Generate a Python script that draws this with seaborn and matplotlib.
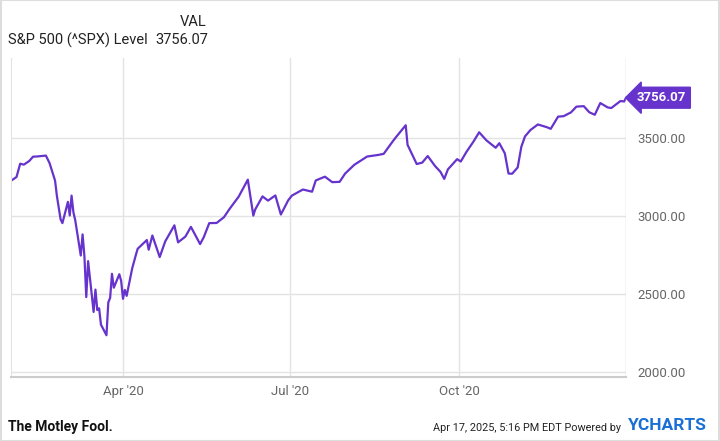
import pandas as pd
import matplotlib.pyplot as plt
import seaborn as sns

dates = ["2020-01-31", "2020-02-03", "2020-02-05", "2020-02-07", "2020-02-10", "2020-02-12",
         "2020-02-14", "2020-02-19", "2020-02-21", "2020-02-24", "2020-02-25", "2020-02-27",
         "2020-02-28", "2020-03-02", "2020-03-03", "2020-03-04", "2020-03-05", "2020-03-06",
         "2020-03-09", "2020-03-10", "2020-03-11", "2020-03-12", "2020-03-13", "2020-03-16",
         "2020-03-17", "2020-03-18", "2020-03-19", "2020-03-20", "2020-03-23", "2020-03-24",
         "2020-03-25", "2020-03-26", "2020-03-27", "2020-03-30", "2020-03-31", "2020-04-01",
         "2020-04-02", "2020-04-03", "2020-04-06", "2020-04-08", "2020-04-09", "2020-04-14",
         "2020-04-15", "2020-04-17", "2020-04-21", "2020-04-24", "2020-04-29", "2020-05-01",
         "2020-05-05", "2020-05-08", "2020-05-13", "2020-05-15", "2020-05-18", "2020-05-22",
         "2020-05-26", "2020-05-29", "2020-06-03", "2020-06-08", "2020-06-11", "2020-06-12",
         "2020-06-16", "2020-06-19", "2020-06-23", "2020-06-26", "2020-06-30", "2020-07-02",
         "2020-07-08", "2020-07-13", "2020-07-15", "2020-07-20", "2020-07-24", "2020-07-28",
         "2020-07-31", "2020-08-05", "2020-08-12", "2020-08-18", "2020-08-21", "2020-08-26",
         "2020-08-28", "2020-09-02", "2020-09-03", "2020-09-08", "2020-09-11", "2020-09-14",
         "2020-09-18", "2020-09-21", "2020-09-23", "2020-09-25", "2020-09-30", "2020-10-02",
         "2020-10-05", "2020-10-09", "2020-10-12", "2020-10-16", "2020-10-21", "2020-10-23",
         "2020-10-26", "2020-10-28", "2020-10-30", "2020-11-02", "2020-11-04", "2020-11-06",
         "2020-11-09", "2020-11-13", "2020-11-18", "2020-11-20", "2020-11-24", "2020-11-27",
         "2020-12-01", "2020-12-04", "2020-12-08", "2020-12-11", "2020-12-14", "2020-12-17",
         "2020-12-21", "2020-12-23", "2020-12-28", "2020-12-30", "2020-12-31"]
levels = [3225, 3249, 3334, 3328, 3352, 3379,
          3380, 3386, 3338, 3226, 3128, 2979,
          2954, 3090, 3003, 3130, 3023, 2972,
          2747, 2882, 2741, 2481, 2711, 2386,
          2529, 2398, 2409, 2305, 2237, 2447,
          2476, 2630, 2541, 2627, 2585, 2470,
          2527, 2489, 2664, 2750, 2790, 2846,
          2784, 2875, 2737, 2837, 2940, 2831,
          2868, 2930, 2820, 2864, 2954, 2955,
          2992, 3044, 3123, 3232, 3002, 3041,
          3125, 3098, 3131, 3009, 3100, 3130,
          3169, 3155, 3227, 3251, 3216, 3218,
          3271, 3327, 3380, 3390, 3397, 3478,
          3508, 3580, 3455, 3332, 3341, 3383,
          3319, 3281, 3237, 3298, 3363, 3348,
          3408, 3477, 3535, 3483, 3436, 3465,
          3400, 3271, 3270, 3310, 3443, 3509,
          3550, 3585, 3567, 3557, 3635, 3638,
          3662, 3699, 3702, 3663, 3647, 3722,
          3694, 3690, 3735, 3732, 3756.07]
yticks = [2000, 2500, 3000, 3500]
xtick_dates = ["2020-04-01", "2020-07-01", "2020-10-01"]
xtick_labels = ["Apr '20", "Jul '20", "Oct '20"]

purple = "#6633cc"
grey_text = "#666666"

df = pd.DataFrame({"date": pd.to_datetime(dates), "level": levels})

sns.set_style("white")
plt.rcParams['font.family'] = ['Roboto', 'DejaVu Sans']

fig = plt.figure(figsize=(7.2, 4.41), dpi=100)
ax = fig.add_axes([11 / 720, 1 - 377 / 441, 615 / 720, 319 / 441])
sns.lineplot(data=df, x="date", y="level", color=purple, linewidth=1.6, ax=ax)

ax.set_xlim(pd.Timestamp("2020-01-31"), pd.Timestamp("2020-12-31"))
ax.set_ylim(1970, 4010)
ax.set_yticks(yticks)
ax.set_yticklabels([f"{v:.2f}" for v in yticks])
ax.set_xticks(pd.to_datetime(xtick_dates))
ax.set_xticklabels(xtick_labels)
ax.yaxis.tick_right()
ax.tick_params(axis='both', length=0, labelsize=9.5, colors=grey_text)
ax.tick_params(axis='y', pad=8)
ax.tick_params(axis='x', pad=6)
ax.grid(True, color="#e3e3e3", linewidth=1)
ax.set_xlabel("")
ax.set_ylabel("")
for side in ["top", "right"]:
    ax.spines[side].set_visible(False)
ax.spines["left"].set_color("#e3e3e3")
ax.spines["bottom"].set_color("#cccccc")
ax.spines["bottom"].set_linewidth(1.5)
ax.axvline(pd.Timestamp("2020-12-31"), color="#cccccc", linewidth=1)

# last value tag
last_date = df["date"].iloc[-1]
last_val = df["level"].iloc[-1]
ax.annotate(f"{last_val:.2f}", xy=(last_date, last_val), xytext=(8, 0),
            textcoords="offset points", va="center", ha="left",
            color="white", fontsize=9.5, fontweight="bold", annotation_clip=False,
            bbox=dict(boxstyle="larrow,pad=0.3", fc=purple, ec=purple))

# header
fig.text(180 / 720, 1 - 22 / 441, "VAL", ha="left", va="center", fontsize=10.5, color="#222222")
fig.text(8 / 720, 1 - 40 / 441, "S&P 500 (^SPX) Level", ha="left", va="center", fontsize=10.5, color="#222222")
fig.text(155 / 720, 1 - 40 / 441, "3756.07", ha="left", va="center", fontsize=10.5, color="#222222")

# footer
fig.text(8 / 720, 1 - 427 / 441, "The Motley Fool.", ha="left", va="center", fontsize=10,
         fontweight="bold", color="#111111")
fig.text(621 / 720, 1 - 428 / 441, "Apr 17, 2025, 5:16 PM EDT Powered by", ha="right", va="center",
         fontsize=7.8, color="#222222")
fig.text(628 / 720, 1 - 426 / 441, "YCHARTS", ha="left", va="center", fontsize=12.5,
         fontweight="bold", color="#1a6fd6")

fig.patches.append(plt.Rectangle((0.001, 0.001), 0.998, 0.998, transform=fig.transFigure,
                                 fill=False, ec="#dddddd", lw=1.5))

fig.savefig("out.png", dpi=100)
